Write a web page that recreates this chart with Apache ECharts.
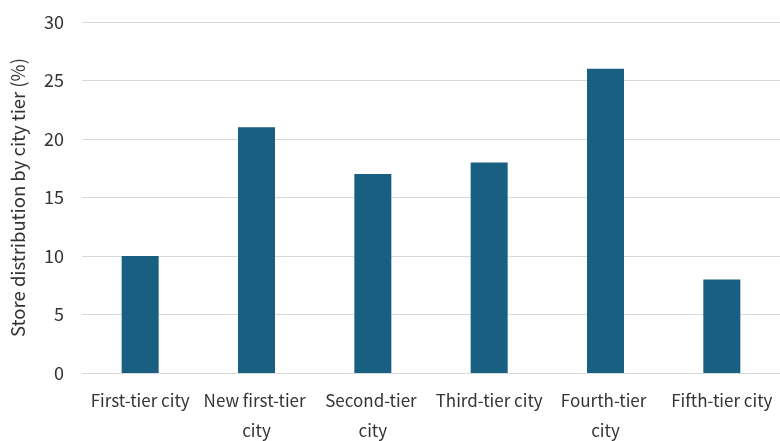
<!DOCTYPE html>
<html>
<head>
<meta charset="utf-8">
<script src="https://cdn.jsdelivr.net/npm/echarts@6/dist/echarts.min.js"></script>
<style>
  html, body { margin: 0; padding: 0; background: #fff; }
  #chart { width: 780px; height: 441px; }
</style>
</head>
<body>
<div id="chart"></div>
<script>
// city tiers and share of stores (%)
const tiers = ['First-tier city', 'New first-tier city', 'Second-tier city', 'Third-tier city', 'Fourth-tier city', 'Fifth-tier city']
const storeShare = [10, 21, 17, 18, 26, 8]
const yTicks = { min: 0, max: 30, step: 5 }

const font = '"Noto Sans CJK SC", "Noto Sans", sans-serif'
let chart = echarts.init(document.getElementById('chart'))
let option = {
    animation: false,
    grid: {
        left: 82,
        right: 0,
        top: 22,
        bottom: 68,
        outerBoundsMode: 'none'
    },
    xAxis: {
        type: 'category',
        data: tiers,
        axisLine: { lineStyle: { color: '#d9d9d9', width: 1 } },
        axisTick: { show: false },
        axisLabel: {
            color: '#333',
            fontSize: 17,
            fontFamily: font,
            margin: 13,
            lineHeight: 30,
            interval: 0,
            width: 110,
            overflow: 'break'
        }
    },
    yAxis: {
        type: 'value',
        min: yTicks.min,
        max: yTicks.max,
        interval: yTicks.step,
        name: 'Store distribution by city tier (%)',
        nameLocation: 'middle',
        nameGap: 55,
        nameTextStyle: { color: '#333', fontSize: 18.5, fontFamily: font },
        axisLine: { show: false },
        axisTick: { show: false },
        axisLabel: { color: '#333', fontSize: 18, fontFamily: font, margin: 18 },
        splitLine: { lineStyle: { color: '#d9d9d9', width: 1 } }
    },
    series: [
        {
            type: 'bar',
            data: storeShare,
            barWidth: 37,
            itemStyle: { color: '#185f82' }
        }
    ]
}
chart.setOption(option)
</script>
</body>
</html>
